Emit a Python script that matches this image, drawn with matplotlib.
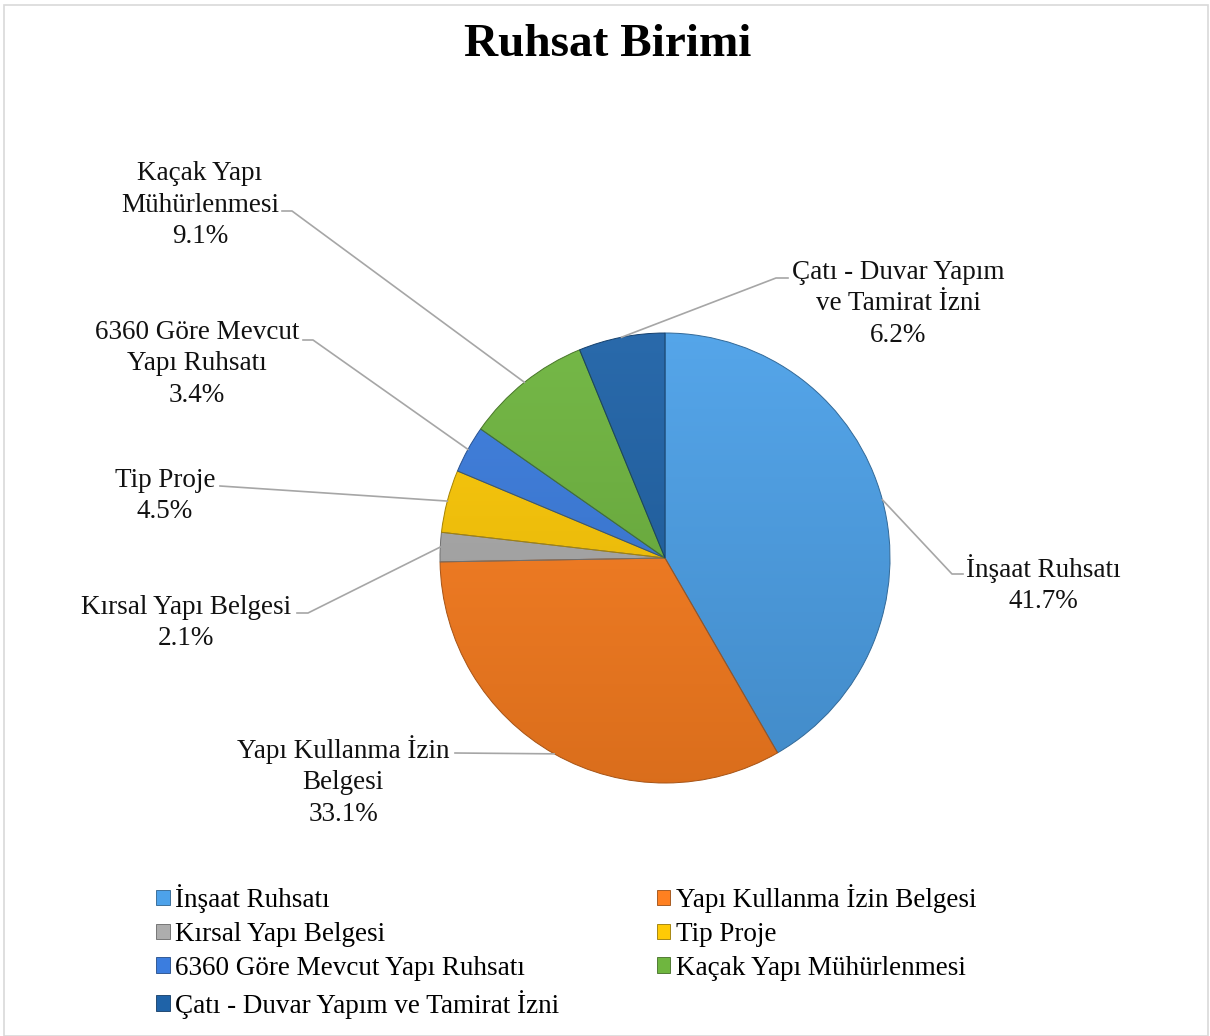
import numpy as np
import matplotlib
matplotlib.use('Agg')
import matplotlib.pyplot as plt
import matplotlib.colors as mcolors
from matplotlib.colors import LinearSegmentedColormap
from matplotlib.patches import Patch, Rectangle

plt.rcParams['font.family'] = ['Liberation Serif', 'DejaVu Serif']

# ── Data ─────────────────────────────────────────────────────────────────────
LABELS = [
    'İnşaat Ruhsatı',
    'Yapı Kullanma İzin Belgesi',
    'Kırsal Yapı Belgesi',
    'Tip Proje',
    '6360 Göre Mevcut Yapı Ruhsatı',
    'Kaçak Yapı Mühürlenmesi',
    'Çatı - Duvar Yapım ve Tamirat İzni',
]
SHARES = [41.7, 33.1, 2.1, 4.5, 3.4, 9.1, 6.2]

# wrapped text used for the data labels
LABEL_TEXT = [
    'İnşaat Ruhsatı',
    'Yapı Kullanma İzin\nBelgesi',
    'Kırsal Yapı Belgesi',
    'Tip Proje',
    '6360 Göre Mevcut\nYapı Ruhsatı',
    'Kaçak Yapı\nMühürlenmesi',
    'Çatı - Duvar Yapım\nve Tamirat İzni',
]

COLORS = ['#4da2ea', '#ff8020', '#adadad', '#ffca05',
          '#3b7ddf', '#6fb63f', '#1f63a8']

# ── Layout (pixel coordinates, y from top) ────────────────────────────────────
W, H = 1210, 1036
CX, CY, R = 665, 558, 225
FS = 19.5

# label block centre (x, y) and leader start (x, y, stub dx)
LABEL_POS = [
    (1043, 584, 963, 574, -11),
    (343, 781, 455, 753, 0),
    (186, 623, 297, 613, 11),
    (165, 496, 220, 486, 0),
    (197, 364, 303, 340, 10),
    (200, 205, 282, 211, 10),
    (898, 304, 788, 278, -12),
]


def shade(c, f):
    """f>0 lighten towards white, f<0 darken towards black."""
    rgb = np.array(mcolors.to_rgb(c))
    if f >= 0:
        return tuple(rgb + (1 - rgb) * f)
    return tuple(rgb * (1 + f))


fig = plt.figure(figsize=(W / 100, H / 100), dpi=100)
ax = fig.add_axes([0, 0, 1, 1])
ax.set_axis_off()

wedges, _ = ax.pie(SHARES, colors=COLORS, startangle=90, counterclock=False,
                   center=(CX, H - CY), radius=R, explode=[0.022] + [0] * 6,
                   wedgeprops=dict(linewidth=0.7))

# gentle top-to-bottom gradient inside each slice
grad = np.linspace(0, 1, 256)[:, None]
for w, c in zip(wedges, COLORS):
    cmap = LinearSegmentedColormap.from_list('g', [shade(c, 0.05), shade(c, -0.15)])
    im = ax.imshow(grad, cmap=cmap, aspect='auto', origin='upper',
                   extent=[CX - R - 20, CX + R + 20, H - CY - R - 20, H - CY + R + 20],
                   zorder=1.5)
    im.set_clip_path(w)
    w.set_facecolor('none')
    w.set_edgecolor(shade(c, -0.35))
    w.set_zorder(2)

ax.set_xlim(0, W)
ax.set_ylim(0, H)

# data labels with leader lines
for w, txt, pct, (tx, ty, lx, ly, stub) in zip(wedges, LABEL_TEXT, SHARES, LABEL_POS):
    ang = np.deg2rad((w.theta1 + w.theta2) / 2)
    wx, wy = w.center
    px = wx + R * np.cos(ang)
    py = wy + R * np.sin(ang)
    ax.plot([lx, lx + stub, px], [H - ly, H - ly, py], color='#a6a6a6',
            linewidth=1.2, zorder=3)
    ax.text(tx, H - ty, f'{txt}\n{pct:.1f}%', ha='center', va='center',
            fontsize=FS, color='#111111', linespacing=1.36, zorder=4)

# chart frame
ax.add_patch(Rectangle((4, 0), W - 6, H - 5, fill=False, edgecolor='#d9d9d9',
                       linewidth=1.2, zorder=0))

fig.text(608 / W, 1 - 45 / H, 'Ruhsat Birimi', ha='center', va='center',
         fontsize=34, fontweight='bold')

# legend, filled row by row
handles = [Patch(facecolor=c, edgecolor=shade(c, -0.4), linewidth=0.6) for c in COLORS]
order = [0, 2, 4, 6, 1, 3, 5]
fig.legend([handles[i] for i in order], [LABELS[i] for i in order],
           ncol=2, loc='upper left', bbox_to_anchor=(156 / W, 1 - 884 / H),
           frameon=False, fontsize=FS, handlelength=0.5, handleheight=0.5,
           handletextpad=0.2, columnspacing=3.6, labelspacing=0.33,
           borderpad=0, borderaxespad=0)

fig.savefig('out.png', dpi=100)
